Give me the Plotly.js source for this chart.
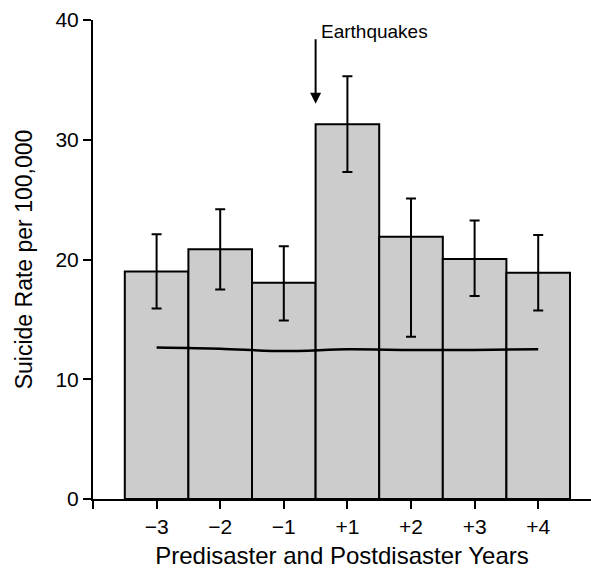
<!DOCTYPE html>
<html>
<head>
<meta charset="utf-8">
<script src="https://cdn.plot.ly/plotly-3.0.1.min.js"></script>
<style>html,body{margin:0;padding:0;background:#fff;}#chart{width:591px;height:569px;}</style>
</head>
<body>
<div id="chart"></div>
<script>
// Data
const years = ['−3', '−2', '−1', '+1', '+2', '+3', '+4'];
const rate = [19.0, 20.85, 18.05, 31.3, 21.9, 20.05, 18.9];
const ciUpper = [22.1, 24.2, 21.1, 35.3, 25.1, 23.25, 22.05];
const ciLower = [15.9, 17.5, 14.9, 27.3, 13.55, 16.95, 15.75];
const expected = [12.65, 12.55, 12.35, 12.5, 12.45, 12.45, 12.5];
const eventLabel = 'Earthquakes';

const pos = years.map((_, i) => i + 1);
const errPlus = rate.map((v, i) => +(ciUpper[i] - v).toFixed(3));
const errMinus = rate.map((v, i) => +(v - ciLower[i]).toFixed(3));

const font = 'Liberation Sans, Arial, sans-serif';

const traces = [
  {
    type: 'bar', x: pos, y: rate, width: 1,
    marker: {color: '#cccccc', line: {color: '#000', width: 2}},
    error_y: {type: 'data', symmetric: false, array: errPlus, arrayminus: errMinus,
              color: '#000', thickness: 2, width: 5},
    hoverinfo: 'skip', showlegend: false
  },
  {
    type: 'scatter', mode: 'lines', x: pos, y: expected,
    line: {color: '#000', width: 2.5, shape: 'spline', smoothing: 0.8},
    hoverinfo: 'skip', showlegend: false
  }
];

const layout = {
  width: 591, height: 569,
  margin: {l: 93, r: 0, t: 20, b: 70},
  paper_bgcolor: '#fff', plot_bgcolor: '#fff',
  font: {family: font, color: '#000', size: 20},
  bargap: 0,
  xaxis: {
    range: [0, 7.83], tickmode: 'array',
    tickvals: [0].concat(pos), ticktext: [''].concat(years),
    showline: true, linecolor: '#000', linewidth: 2,
    ticks: 'outside', ticklen: 8, tickwidth: 2, tickcolor: '#000',
    showgrid: false, zeroline: false,
    tickfont: {size: 21},
    title: {text: 'Predisaster and Postdisaster Years', font: {size: 24}, standoff: 12}
  },
  yaxis: {
    range: [0, 40], tickvals: [0, 10, 20, 30, 40],
    showline: true, linecolor: '#000', linewidth: 2,
    ticks: 'outside', ticklen: 8, tickwidth: 2, tickcolor: '#000',
    showgrid: false, zeroline: false,
    tickfont: {size: 21},
    title: {text: 'Suicide Rate per 100,000', font: {size: 23}, standoff: 16}
  },
  annotations: [
    {x: 3.5, y: 33.0, xref: 'x', yref: 'y', text: '', showarrow: true,
     arrowhead: 2, arrowsize: 1.1, arrowwidth: 2, arrowcolor: '#000', ax: 0, ay: -66},
    {x: 3.5, y: 39.0, xref: 'x', yref: 'y', text: eventLabel, showarrow: false,
     xanchor: 'left', yanchor: 'middle', xshift: 3, font: {size: 19}}
  ]
};

Plotly.newPlot('chart', traces, layout, {displayModeBar: false, staticPlot: true});
</script>
</body>
</html>
